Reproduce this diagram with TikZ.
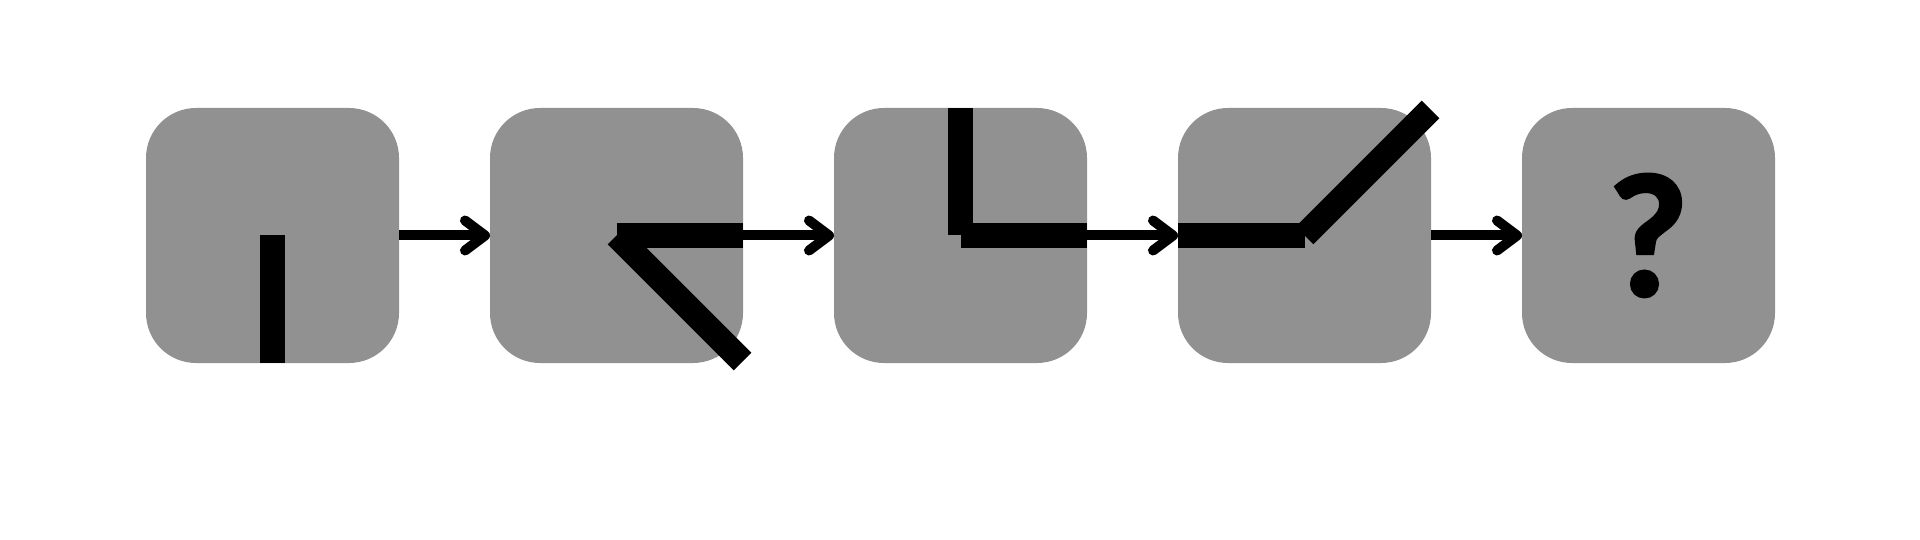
\documentclass[tikz,border=0pt]{standalone}
\usepackage{fontspec}
\newfontfamily\qfont{Lato}[BoldFeatures={FakeBold=2.5}]
\usetikzlibrary{arrows.meta}
\definecolor{boxgray}{RGB}{145,145,145}
\begin{document}
\begin{tikzpicture}[x=1pt,y=-1pt,
  box/.style={rectangle, rounded corners=50pt, fill=boxgray, draw=none,
    minimum width=253pt, minimum height=255pt, inner sep=0pt, outer sep=0pt},
  hand/.style={line width=25pt, line cap=butt, black},
  arr/.style={line width=10pt, black, -{Straight Barb[length=20pt, width=30pt, round]}}]
\useasboundingbox (0,0) rectangle (1920,540);
\node[box] (b1) at (272.5,235.5) {};
\node[box] (b2) at (616.5,235.5) {};
\node[box] (b3) at (960.5,235.5) {};
\node[box] (b4) at (1304.5,235.5) {};
\node[box] (b5) at (1648.5,235.5) {\raisebox{-4pt}{\qfont\bfseries\fontsize{165pt}{165pt}\selectfont ?}};
% hands
\draw[hand] (b1.center) -- (b1.south);
\draw[hand] (b2.center) -- (b2.east);
\draw[hand] (b2.center) -- ++(126,126);
\draw[hand] (b3.north) -- (b3.center);
\draw[hand] (b3.center) -- (b3.east);
\draw[hand] (b4.west) -- (b4.center);
\draw[hand] (b4.center) -- ++(126,-126);
% connectors
\draw[arr] (b1.east) -- (b2.west);
\draw[arr] (b2.east) -- (b3.west);
\draw[arr] (b3.east) -- (b4.west);
\draw[arr] (b4.east) -- (b5.west);
\end{tikzpicture}
\end{document}
